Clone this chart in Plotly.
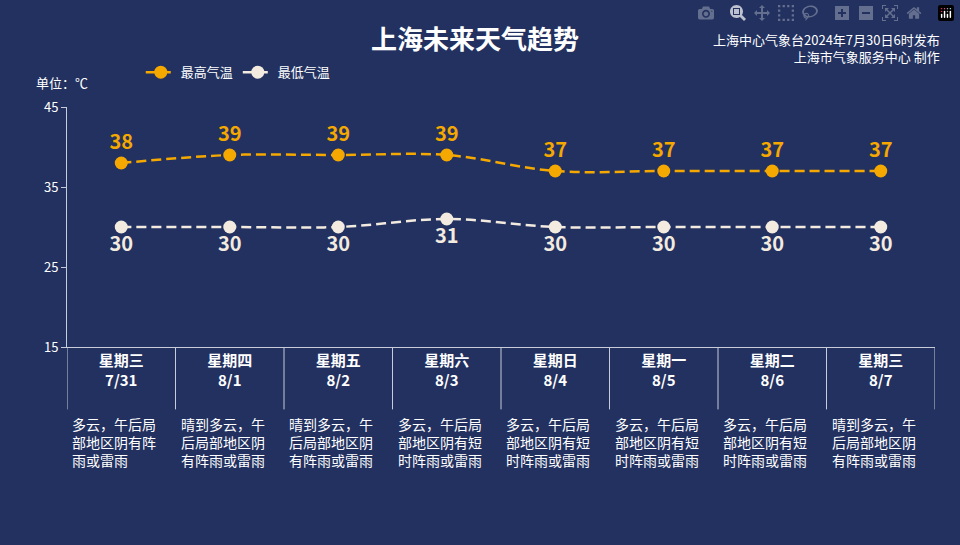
import plotly.graph_objects as go

weekdays = ["星期三", "星期四", "星期五", "星期六", "星期日", "星期一", "星期二", "星期三"]
dates = ["7/31", "8/1", "8/2", "8/3", "8/4", "8/5", "8/6", "8/7"]
high = [38, 39, 39, 39, 37, 37, 37, 37]
low = [30, 30, 30, 31, 30, 30, 30, 30]
y_ticks = [15, 25, 35, 45]
weather = [
    "多云，午后局<br>部地区阴有阵<br>雨或雷雨",
    "晴到多云，午<br>后局部地区阴<br>有阵雨或雷雨",
    "晴到多云，午<br>后局部地区阴<br>有阵雨或雷雨",
    "多云，午后局<br>部地区阴有短<br>时阵雨或雷雨",
    "多云，午后局<br>部地区阴有短<br>时阵雨或雷雨",
    "多云，午后局<br>部地区阴有短<br>时阵雨或雷雨",
    "多云，午后局<br>部地区阴有短<br>时阵雨或雷雨",
    "晴到多云，午<br>后局部地区阴<br>有阵雨或雷雨",
]

bg = "#22315f"
orange = "#f5a800"
white = "#f3ebe0"
font = "Noto Sans CJK SC"
xs = list(range(len(dates)))

fig = go.Figure()
fig.add_scatter(x=xs, y=high, mode="lines+markers+text", name="最高气温",
                line=dict(color=orange, width=2.5, dash="10px,5px", shape="spline"),
                marker=dict(size=13, color=orange),
                text=[str(v) for v in high], textposition="top center",
                textfont=dict(color=orange, size=20, family=font, weight="bold"))
fig.add_scatter(x=xs, y=low, mode="lines+markers+text", name="最低气温",
                line=dict(color=white, width=2.5, dash="10px,5px", shape="spline"),
                marker=dict(size=13, color=white),
                text=[str(v) for v in low], textposition="bottom center",
                textfont=dict(color=white, size=20, family=font, weight="bold"))

# column separators below the axis
for i in range(len(dates) + 1):
    fig.add_shape(type="line", xref="x", yref="paper", x0=i - 0.5, x1=i - 0.5,
                  y0=0, y1=-0.26, line=dict(color="#c8cbd8", width=1))

for i, w in enumerate(weather):
    fig.add_annotation(x=i - 0.47, y=-0.27, xref="x", yref="paper", text=w,
                       showarrow=False, xanchor="left", yanchor="top", align="left",
                       font=dict(color="white", size=14, family=font))

fig.add_annotation(x=0.47, y=1.29, xref="paper", yref="paper", text="<b>上海未来天气趋势</b>",
                   showarrow=False, yanchor="middle",
                   font=dict(color="white", size=26, family=font))
fig.add_annotation(x=1.008, y=1.245, xref="paper", yref="paper",
                   text="上海中心气象台2024年7月30日6时发布<br>上海市气象服务中心 制作",
                   showarrow=False, xanchor="right", yanchor="middle", align="right",
                   font=dict(color="white", size=13, family=font))
fig.add_annotation(x=-0.038, y=1.10, xref="paper", yref="paper", text="单位：℃",
                   showarrow=False, xanchor="left", yanchor="middle",
                   font=dict(color="white", size=13, family=font))

fig.update_layout(
    width=960, height=545, paper_bgcolor=bg, plot_bgcolor=bg,
    margin=dict(l=67, r=25, t=107, b=198),
    font=dict(family=font, color="white"),
    legend=dict(orientation="h", x=0.085, y=1.145, xanchor="left", yanchor="middle",
                font=dict(color="white", size=13), bgcolor="rgba(0,0,0,0)"),
    xaxis=dict(range=[-0.5, 7.5], tickvals=xs,
               ticktext=[f"<b>{w}</b><br><b>{d}</b>" for w, d in zip(weekdays, dates)],
               tickfont=dict(size=15, color="white"), showgrid=False, zeroline=False,
               showline=True, linecolor="#c8cbd8", ticks=""),
    yaxis=dict(range=[15, 45], tickvals=y_ticks, showgrid=False, zeroline=False, showline=True,
               linecolor="#c8cbd8", ticks="outside", ticklen=5, tickcolor="#c8cbd8",
               tickfont=dict(size=13, color="white")),
)
fig.write_html("out.html",
               post_script="document.body.style.margin='0';document.body.style.background='%s';" % bg)
